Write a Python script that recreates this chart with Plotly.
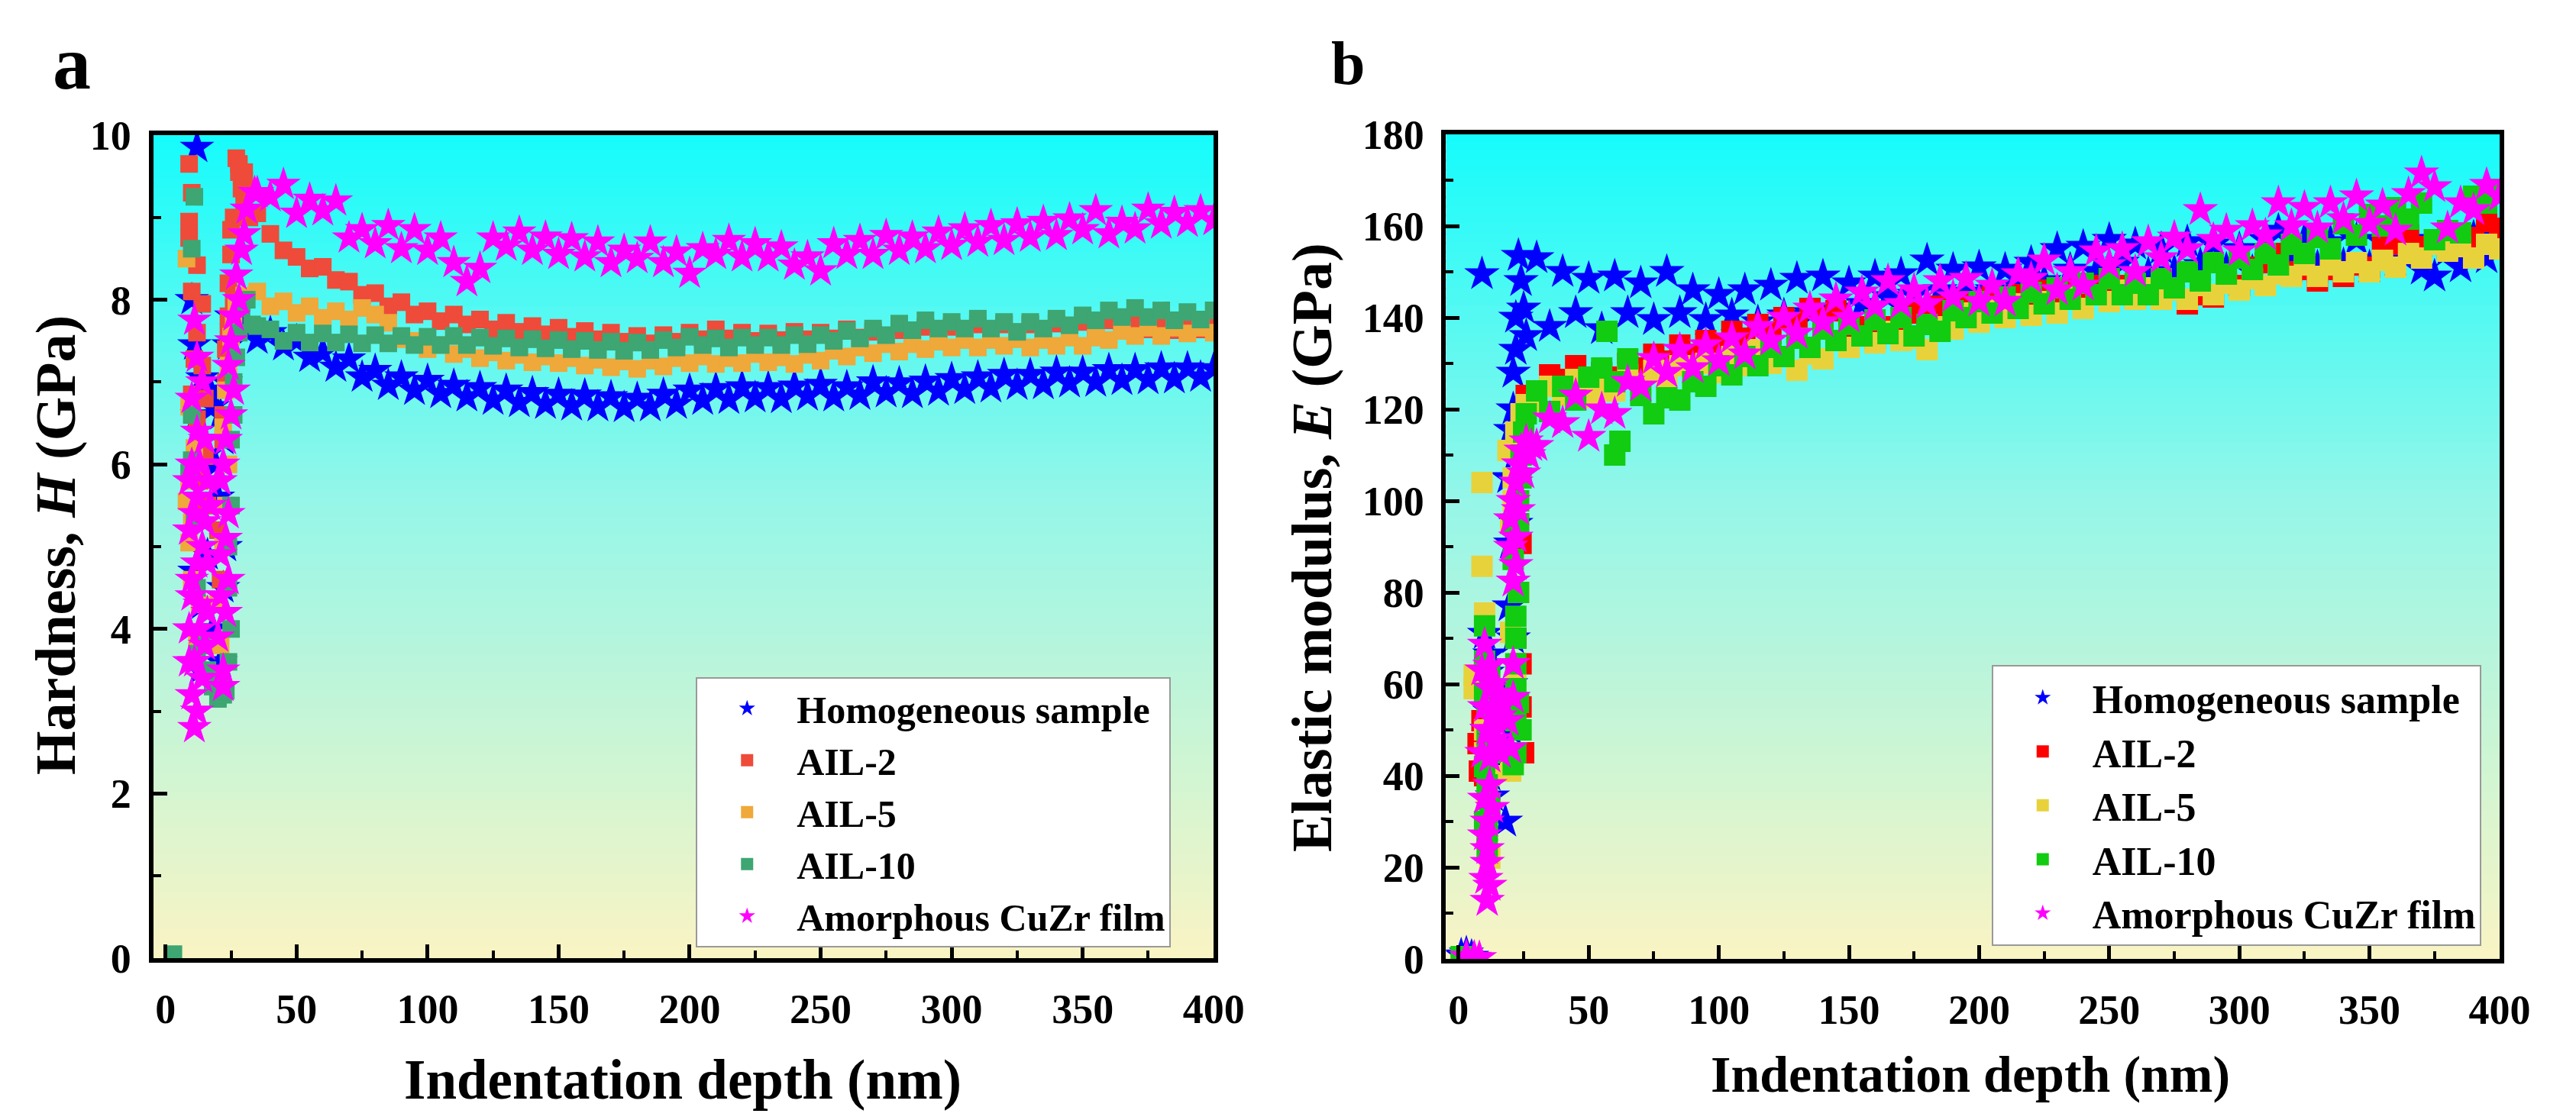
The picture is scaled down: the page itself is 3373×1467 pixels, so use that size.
import plotly.graph_objects as go

FONT = "Liberation Serif"

# depth grid (nm) used for the steady part of every curve
depth = [30, 35, 40, 45, 50, 55, 60, 65, 70, 75, 80, 85, 90, 95, 100,
         105, 110, 115, 120, 125, 130, 135, 140, 145, 150, 155, 160, 165, 170, 175,
         180, 185, 190, 195, 200, 205, 210, 215, 220, 225, 230, 235, 240, 245, 250,
         255, 260, 265, 270, 275, 280, 285, 290, 295, 300, 305, 310, 315, 320, 325,
         330, 335, 340, 345, 350, 355, 360, 365, 370, 375, 380, 385, 390, 395, 400]

names = ["Homogeneous sample", "AIL-2", "AIL-5", "AIL-10", "Amorphous CuZr film"]

# ---- panel a: hardness (GPa) ----
h_homog = [7.66, 7.52, 7.60, 7.44, 7.50, 7.30, 7.36, 7.18, 7.28, 7.06, 7.14, 6.96, 7.06, 6.90, 7.02,
           6.86, 6.96, 6.82, 6.93, 6.78, 6.90, 6.75, 6.87, 6.73, 6.85, 6.71, 6.84, 6.70, 6.82, 6.69,
           6.80, 6.70, 6.85, 6.73, 6.90, 6.78, 6.92, 6.79, 6.94, 6.81, 6.93, 6.80, 6.95, 6.83, 6.97,
           6.82, 6.94, 6.84, 7.00, 6.87, 6.99, 6.86, 7.01, 6.89, 7.04, 6.91, 7.06, 6.93, 7.09, 6.96,
           7.09, 6.97, 7.12, 6.99, 7.12, 7.00, 7.15, 7.02, 7.15, 7.03, 7.17, 7.04, 7.17, 7.06, 7.16]
h_ail2 = [9.55, 9.05, 8.80, 8.60, 8.52, 8.38, 8.40, 8.24, 8.22, 8.06, 8.08, 7.92, 7.97, 7.82, 7.86,
          7.74, 7.82, 7.70, 7.76, 7.64, 7.72, 7.61, 7.68, 7.58, 7.66, 7.55, 7.62, 7.52, 7.60, 7.49,
          7.56, 7.47, 7.57, 7.49, 7.60, 7.52, 7.64, 7.53, 7.60, 7.50, 7.59, 7.51, 7.61, 7.52, 7.60,
          7.53, 7.64, 7.54, 7.61, 7.51, 7.63, 7.55, 7.67, 7.56, 7.67, 7.59, 7.70, 7.61, 7.70, 7.60,
          7.70, 7.61, 7.71, 7.60, 7.73, 7.64, 7.75, 7.66, 7.75, 7.64, 7.74, 7.63, 7.72, 7.64, 7.74]
h_ail5 = [8.05, 8.10, 7.92, 7.98, 7.84, 7.92, 7.78, 7.86, 7.76, 7.90, 7.82, 7.72, 7.52, 7.50, 7.40,
          7.45, 7.34, 7.40, 7.29, 7.36, 7.26, 7.33, 7.24, 7.31, 7.23, 7.29, 7.20, 7.27, 7.18, 7.25,
          7.16, 7.26, 7.19, 7.29, 7.23, 7.31, 7.22, 7.29, 7.23, 7.34, 7.24, 7.30, 7.22, 7.33, 7.26,
          7.38, 7.31, 7.42, 7.35, 7.46, 7.37, 7.46, 7.40, 7.49, 7.42, 7.51, 7.42, 7.51, 7.44, 7.52,
          7.42, 7.51, 7.44, 7.54, 7.44, 7.54, 7.51, 7.62, 7.56, 7.66, 7.56, 7.66, 7.59, 7.66, 7.60]
h_ail10 = [8.00, 7.68, 7.64, 7.50, 7.60, 7.48, 7.59, 7.48, 7.58, 7.47, 7.57, 7.47, 7.56, 7.45, 7.55,
           7.45, 7.56, 7.45, 7.54, 7.44, 7.53, 7.42, 7.52, 7.41, 7.51, 7.40, 7.50, 7.39, 7.49, 7.38,
           7.48, 7.39, 7.51, 7.42, 7.55, 7.45, 7.53, 7.42, 7.54, 7.45, 7.54, 7.45, 7.57, 7.46, 7.57,
           7.50, 7.62, 7.53, 7.65, 7.57, 7.71, 7.63, 7.75, 7.65, 7.73, 7.65, 7.77, 7.65, 7.73, 7.61,
           7.73, 7.65, 7.77, 7.69, 7.81, 7.75, 7.87, 7.79, 7.90, 7.79, 7.87, 7.75, 7.85, 7.76, 7.87]
h_amor = [8.80, 9.30, 9.25, 9.40, 9.05, 9.22, 9.08, 9.20, 8.75, 8.85, 8.68, 8.90, 8.62, 8.85, 8.60,
          8.75, 8.45, 8.22, 8.38, 8.75, 8.65, 8.82, 8.60, 8.76, 8.55, 8.74, 8.52, 8.70, 8.45, 8.60,
          8.50, 8.70, 8.45, 8.58, 8.32, 8.62, 8.55, 8.72, 8.52, 8.68, 8.52, 8.64, 8.42, 8.52, 8.35,
          8.68, 8.55, 8.72, 8.55, 8.78, 8.60, 8.76, 8.62, 8.82, 8.66, 8.86, 8.70, 8.90, 8.72, 8.92,
          8.76, 8.95, 8.78, 8.98, 8.85, 9.08, 8.80, 8.94, 8.86, 9.10, 8.92, 9.06, 8.94, 9.08, 8.96]

# scattered points of the first ~30 nm (pop-in region)
h0_homog_x = [12, 10, 11, 14, 12, 18, 15, 13, 16, 14, 20, 22, 23, 24, 25, 21, 22,
              17, 19, 21, 23, 18, 13, 11]
h0_homog_y = [9.85, 8.0, 7.45, 7.05, 6.6, 6.7, 6.1, 5.5, 4.9, 4.3, 5.6, 6.3, 7.0, 7.45, 7.8, 3.6, 4.5,
              6.9, 6.0, 6.6, 5.0, 4.0, 3.5, 4.7]
h0_ail2_x = [9, 9, 9, 12, 14, 12, 11, 10, 12, 13, 13, 14,
             27, 28, 29, 25, 25, 24, 24, 23, 23, 22, 22, 30, 32, 20, 21,
             10, 10, 14, 15, 15, 16, 26, 24, 26, 28, 30]
h0_ail2_y = [9.65, 8.95, 8.75, 8.42, 7.95, 7.6, 7.28, 6.85, 6.55, 6.3, 5.8, 5.5,
             9.72, 9.55, 9.35, 8.85, 8.55, 8.2, 7.8, 7.4, 7.0, 6.6, 6.3, 9.2, 9.0, 5.2, 4.6,
             9.3, 8.1, 7.2, 6.8, 6.1, 5.5, 9.0, 7.6, 8.0, 9.65, 9.45]
h0_ail5_x = [8, 9, 9, 8, 9, 10, 12, 22, 23, 24, 25, 27, 22, 20,
             11, 10, 13, 24, 23, 21, 26, 28]
h0_ail5_y = [8.5, 6.7, 5.8, 5.55, 5.05, 4.6, 3.9, 6.45, 6.9, 7.2, 7.55, 7.95, 5.0, 4.3,
             6.2, 5.3, 4.3, 6.0, 5.5, 3.8, 7.7, 7.95]
h0_ail10_x = [3, 11, 10, 10, 11, 12, 14, 18, 20, 22, 24, 24, 25, 25, 26, 28,
              16, 21, 23, 12, 9, 10, 25, 24, 26, 27, 29, 31, 33]
h0_ail10_y = [0.05, 9.25, 8.62, 6.05, 5.3, 4.5, 3.8, 3.3, 3.15, 3.2, 3.6, 4.5, 5.5, 6.3, 7.0, 7.6,
              3.5, 3.4, 3.25, 3.7, 5.9, 6.6, 4.0, 5.0, 6.6, 7.3, 7.9, 8.0, 7.7]
h0_amor_x = [11, 10, 12, 9, 14, 10, 13, 9, 15, 11, 10, 11, 16, 17, 15,
             22, 23, 21, 24, 22, 25, 24, 26, 27,
             12, 14, 9, 13, 16, 10, 12, 15, 11, 9, 13, 16, 12, 10, 14, 12,
             20, 24, 23, 21, 23, 26, 25, 28, 29, 31, 34, 21, 22]
h0_amor_y = [7.75, 6.0, 5.6, 5.2, 5.0, 4.6, 4.3, 4.0, 3.8, 3.6, 3.2, 2.8, 4.8, 5.5, 6.3,
             3.5, 4.2, 4.9, 5.4, 6.0, 6.6, 7.2, 7.8, 8.3,
             3.0, 3.4, 3.6, 4.0, 4.2, 4.4, 4.8, 5.3, 5.4, 5.8, 6.0, 5.8, 6.4, 6.8, 7.0, 7.3,
             3.9, 4.6, 5.1, 5.8, 6.3, 6.9, 7.5, 8.0, 8.6, 9.1, 9.3, 4.4, 3.3]

# ---- panel b: elastic modulus (GPa) ----
e_homog = [153.0, 138.0, 150.0, 141.0, 148.5, 137.5, 149.0, 141.0, 147.5, 139.5, 150.0, 141.0, 146.0, 139.5, 145.0,
           140.5, 146.0, 139.0, 147.0, 140.5, 148.5, 141.0, 149.0, 142.0, 147.5, 143.0, 149.0, 144.5, 149.5, 145.0,
           152.5, 146.0, 150.5, 145.5, 151.0, 146.0, 150.5, 147.0, 152.0, 148.0, 155.0, 150.5, 155.5, 150.0, 157.0,
           152.0, 156.0, 149.5, 155.0, 150.0, 156.5, 151.5, 156.0, 150.5, 155.0, 150.0, 157.0, 159.0, 153.0, 157.0,
           151.0, 156.5, 151.5, 157.0, 151.0, 156.5, 152.5, 157.0, 150.5, 149.0, 154.5, 151.0, 157.5, 153.0, 157.5]
e_ail2 = [124.0, 127.5, 126.5, 129.5, 126.0, 128.0, 127.0, 130.0, 129.0, 132.0, 130.5, 134.0, 132.0, 135.0, 134.0,
          137.0, 135.5, 138.5, 136.5, 140.0, 138.5, 142.0, 140.0, 141.5, 137.5, 138.0, 135.5, 138.0, 137.5, 141.0,
          140.0, 142.5, 141.0, 143.5, 142.0, 144.5, 143.0, 145.0, 143.5, 146.0, 144.0, 146.5, 145.0, 147.0, 145.0,
          147.0, 144.5, 146.0, 145.0, 146.5, 143.0, 145.0, 144.5, 147.5, 147.0, 151.0, 152.0, 154.0, 150.0, 150.5,
          148.0, 150.5, 149.0, 151.5, 151.0, 156.0, 156.0, 158.0, 155.5, 157.0, 155.0, 158.0, 157.5, 161.0, 159.5]
e_ail5 = [121.5, 125.0, 123.0, 126.5, 122.5, 124.5, 124.0, 127.5, 125.5, 128.5, 126.0, 129.5, 127.0, 130.0, 128.0,
          131.5, 129.5, 133.0, 130.0, 131.5, 128.5, 132.0, 131.0, 135.0, 133.5, 136.0, 134.5, 137.0, 135.0, 135.5,
          133.0, 138.0, 137.5, 141.0, 139.0, 142.0, 140.0, 143.0, 140.5, 143.5, 141.0, 144.5, 142.0, 145.0, 143.5,
          146.0, 144.0, 146.5, 144.0, 146.0, 144.0, 147.0, 145.0, 147.5, 146.0, 148.5, 147.0, 149.5, 149.0, 151.5,
          149.0, 151.5, 150.0, 152.0, 150.0, 152.5, 151.0, 154.0, 153.0, 156.0, 154.5, 155.5, 153.0, 156.0, 155.0]
e_ail10 = [124.0, 119.5, 125.0, 122.0, 127.0, 129.0, 126.0, 131.0, 123.0, 119.0, 122.5, 122.0, 126.0, 125.0, 129.5,
           127.5, 131.5, 129.5, 133.5, 131.5, 135.5, 133.5, 137.5, 135.0, 138.5, 136.0, 139.5, 136.5, 140.0, 136.0,
           138.5, 137.0, 141.5, 140.0, 143.5, 141.0, 144.5, 142.0, 145.5, 143.0, 146.5, 144.0, 147.5, 145.0, 148.5,
           145.0, 147.5, 145.0, 148.5, 146.5, 150.0, 148.0, 152.0, 149.5, 153.0, 150.5, 154.0, 151.5, 156.0, 154.0,
           157.5, 155.0, 160.5, 158.0, 162.5, 160.0, 164.0, 161.5, 165.0, 157.0, 159.0, 158.5, 166.5, 165.0, 168.0]
e_amor = [112.0, 118.0, 117.0, 123.0, 114.0, 120.0, 119.0, 126.0, 125.0, 131.0, 128.0, 133.0, 129.0, 134.0, 130.5,
          135.5, 132.0, 138.0, 135.0, 140.0, 136.5, 142.0, 139.0, 144.0, 140.0, 145.5, 142.5, 148.0, 143.0, 146.0,
          143.0, 148.0, 144.5, 148.5, 143.5, 147.0, 143.5, 149.5, 148.5, 152.5, 146.0, 150.0, 147.0, 154.5, 151.5,
          155.0, 150.0, 156.5, 153.0, 157.5, 155.0, 163.5, 157.0, 159.0, 154.5, 160.0, 158.0, 165.0, 160.0, 164.0,
          159.5, 165.0, 161.5, 166.5, 160.5, 164.5, 159.0, 167.0, 171.5, 168.5, 159.5, 165.0, 163.5, 169.0, 166.5]

e0_homog_x = [1, 3, 5, 9, 10, 12, 11, 13, 12, 14, 13, 12,
              19.5, 20, 19, 20, 21, 21, 22, 22, 23, 24, 26, 25, 20, 18,
              15, 11, 20, 21, 22, 22, 19]
e0_homog_y = [0.8, 1.2, 0.5, 149.5, 71, 66.5, 62.5, 58, 54, 46, 35.5, 40,
              77, 90.7, 105, 115.5, 120, 128, 133, 140, 153.5, 148, 136, 142, 50, 30,
              55, 50, 60, 70, 95, 110, 42]
e0_ail2_x = [7.5, 8, 10, 24, 24, 25, 22, 23, 24, 25, 26,
             9, 10, 23, 24, 22, 23]
e0_ail2_y = [47, 41, 60, 90.7, 64.4, 45, 70, 100, 112, 118, 123,
             52, 40, 80, 55, 105, 95]
e0_ail5_x = [9, 9, 10, 6, 6, 10, 11, 12, 20, 20, 19, 22, 24, 26,
             10, 11, 12, 21, 20, 23, 22, 19, 21]
e0_ail5_y = [104, 85.7, 75.5, 59, 62, 45, 35, 22, 71.3, 41, 111, 115, 119, 121,
             50, 28, 40, 100, 95, 80, 60, 45, 105]
e0_ail10_x = [1, 10, 10, 11, 11, 10, 11, 12, 21, 22, 22, 22, 22, 22, 21,
              23, 24, 25, 26, 57, 60, 62,
              10, 12, 11, 10, 12, 11, 23, 22, 23, 24, 23, 24, 21]
e0_ail10_y = [0.5, 72.7, 65, 55, 38, 30, 24, 45, 87.2, 74.8, 64.4, 59, 52, 45, 42.4,
              95, 105, 115, 119, 137, 110, 113,
              58, 62, 48, 42, 34, 28, 80, 70, 56, 50, 100, 110, 95]
e0_amor_x = [3, 6, 8, 10, 12, 14, 13, 15, 12, 11, 10, 11, 10.5, 11, 14, 17, 16,
             21, 21, 20, 21, 22, 23, 24, 26, 28,
             9, 12, 13, 10, 11, 14, 9, 12, 10, 13, 11, 12, 19, 21, 20, 22, 23, 22,
             25, 27, 20, 15, 16]
e0_amor_y = [0.5, 0.3, 0.2, 68.6, 59, 55, 50, 47, 44, 30, 27, 21, 17.5, 12.7, 52, 56, 45,
             82.4, 64.4, 96, 100, 104, 108, 111, 113, 112,
             63, 64, 60, 55, 50, 48, 45, 38, 35, 33, 24, 16, 52, 57, 90, 86, 98, 92,
             106, 110, 46, 58, 53]

colors_a = ["#0000FF", "#EE4B3B", "#EFA83A", "#3DA672", "#FF00FF"]
colors_b = ["#0000FF", "#FF0000", "#E8D23C", "#11CC11", "#FF00FF"]
symbols = ["star", "square", "square", "square", "star"]

panel_a = [(h0_homog_x, h0_homog_y, h_homog), (h0_ail2_x, h0_ail2_y, h_ail2),
           (h0_ail5_x, h0_ail5_y, h_ail5), (h0_ail10_x, h0_ail10_y, h_ail10),
           (h0_amor_x, h0_amor_y, h_amor)]
panel_b = [(e0_homog_x, e0_homog_y, e_homog), (e0_ail2_x, e0_ail2_y, e_ail2),
           (e0_ail5_x, e0_ail5_y, e_ail5), (e0_ail10_x, e0_ail10_y, e_ail10),
           (e0_amor_x, e0_amor_y, e_amor)]

fig = go.Figure()

for i, (x0, y0, ys) in enumerate(panel_a):
    fig.add_trace(go.Scatter(
        x=x0 + depth, y=y0 + ys, mode="markers", name=names[i],
        marker=dict(symbol=symbols[i], size=34 if symbols[i] == "star" else 23,
                    color=colors_a[i], line=dict(width=0)),
        xaxis="x", yaxis="y", legend="legend"))

for i, (x0, y0, ys) in enumerate(panel_b):
    fig.add_trace(go.Scatter(
        x=x0 + depth, y=y0 + ys, mode="markers", name=names[i],
        marker=dict(symbol=symbols[i], size=35 if symbols[i] == "star" else 28,
                    color=colors_b[i], line=dict(width=0)),
        xaxis="x2", yaxis="y2", legend="legend2"))


# vertical cyan -> pale yellow gradient behind the data
def gradient(xref, yref, n=90):
    stops = [(0.0, (20, 252, 252)), (0.45, (150, 246, 232)), (1.0, (249, 244, 196))]
    out = []
    for k in range(n):
        t = (k + 0.5) / n
        for (t0, c0), (t1, c1) in zip(stops[:-1], stops[1:]):
            if t0 <= t <= t1:
                f = (t - t0) / (t1 - t0)
                c = tuple(round(a + (b - a) * f) for a, b in zip(c0, c1))
                break
        out.append(dict(type="rect", xref=xref, yref=yref, x0=0, x1=1,
                        y0=1 - (k + 1) / n, y1=min(1, 1 - k / n + 0.003),
                        fillcolor="rgb(%d,%d,%d)" % c, line=dict(width=0), layer="below"))
    return out


def axis(rng, dtick, minor, domain, anchor, standoff):
    return dict(range=rng, dtick=dtick, tick0=0, domain=domain, anchor=anchor,
                showline=True, linecolor="black", linewidth=6, mirror=True,
                ticks="inside", ticklen=18, tickwidth=5, tickcolor="black",
                minor=dict(dtick=minor, tick0=0, ticks="inside", ticklen=10,
                           tickwidth=4, tickcolor="black"),
                showgrid=False, zeroline=False, ticklabelstandoff=standoff,
                tickfont=dict(family=FONT, size=54, color="black", weight="bold"))


def legend_box(x, y, size):
    return dict(x=x, y=y, xanchor="left", yanchor="top", bgcolor="white",
                bordercolor="#999999", borderwidth=2, itemwidth=120,
                font=dict(family=FONT, size=size, color="black", weight="bold"))


def label(text, x, y, size, angle=0):
    return dict(text=text, x=x, y=y, xref="paper", yref="paper", showarrow=False,
                xanchor="center", yanchor="middle", textangle=angle,
                font=dict(family=FONT, size=size, color="black", weight="bold"))


fig.update_layout(
    width=3373, height=1467,
    margin=dict(l=0, r=0, t=0, b=0),
    paper_bgcolor="white", plot_bgcolor="white",
    xaxis=axis([-4.7, 400], 50, 25, [0.0578, 0.4744], "y", 14),
    yaxis=axis([0, 10], 2, 1, [0.1343, 0.9005], "x", 12),
    xaxis2=axis([-4.8, 400], 50, 25, [0.5657, 0.9796], "y2", 14),
    yaxis2=axis([0, 180], 20, 10, [0.1336, 0.9012], "x2", 12),
    legend=legend_box(0.271, 0.396, 50),
    legend2=legend_box(0.780, 0.407, 52),
    shapes=gradient("x domain", "y domain") + gradient("x2 domain", "y2 domain"),
    annotations=[
        label("a", 0.0258, 0.968, 100),
        label("b", 0.5274, 0.9675, 80),
        label("Hardness, <i>H</i> (GPa)", 0.0193, 0.519, 74, -90),
        label("Elastic modulus, <i>E</i> (GPa)", 0.5129, 0.517, 74, -90),
        label("Indentation depth (nm)", 0.2659, 0.021, 73),
        label("Indentation depth (nm)", 0.7717, 0.026, 68),
    ],
)

fig.write_html("out.html")
